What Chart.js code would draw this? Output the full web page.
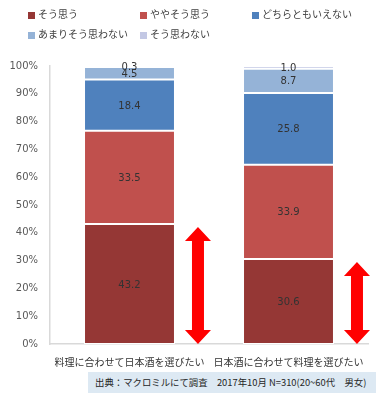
<!DOCTYPE html>
<html>
<head>
<meta charset="utf-8">
<script src="https://cdn.jsdelivr.net/npm/chart.js@4/dist/chart.umd.min.js"></script>
<style>
    html, body { margin: 0; padding: 0; background: #fff; }
    #wrap { position: relative; width: 384px; height: 393px; }
    #source {
        position: absolute; left: 88px; top: 372px; width: 281px; height: 21px;
        padding-left: 7px; background: #dde9f3; color: #262626;
        font: 9.4px "Noto Sans CJK JP", sans-serif; line-height: 21px; white-space: nowrap;
    }
</style>
</head>
<body>
<div id="wrap">
    <canvas id="chart" width="384" height="393"></canvas>
    <div id="source">出典：マクロミルにて調査　2017年10月 N=310(20~60代　男女)</div>
</div>
<script>
const categories = ['料理に合わせて日本酒を選びたい', '日本酒に合わせて料理を選びたい'];
const seriesNames = ['そう思う', 'ややそう思う', 'どちらともいえない', 'あまりそう思わない', 'そう思わない'];
const soOmou = [43.2, 30.6];
const yaya = [33.5, 33.9];
const dochira = [18.4, 25.8];
const amari = [4.5, 8.7];
const omowanai = [0.3, 1.0];
const yTicks = [0, 10, 20, 30, 40, 50, 60, 70, 80, 90, 100];

const colors = ['#953735', '#c0504d', '#4f81bd', '#95b3d7', '#c3c8e4'];
const FONT = '"DejaVu Sans", "Noto Sans CJK JP", sans-serif';

// legend, bar labels and arrows
const extras = {
    id: 'extras',
    afterDraw(chart) {
        const ctx = chart.ctx;
        ctx.save();

        // legend
        const spots = [[28, 15], [140, 15], [252, 15], [28, 35], [140, 35]];
        ctx.font = '10px ' + FONT;
        ctx.textBaseline = 'middle';
        ctx.textAlign = 'left';
        chart.data.datasets.forEach((ds, i) => {
            const [x, y] = spots[i];
            ctx.fillStyle = ds.backgroundColor;
            ctx.fillRect(x, y - 3, 7, 7);
            ctx.fillStyle = '#404040';
            ctx.fillText(ds.label, x + 10, y);
        });

        // values in the bars
        ctx.textAlign = 'center';
        ctx.font = '10px ' + FONT;
        ctx.fillStyle = '#333';
        chart.data.datasets.forEach((ds, i) => {
            chart.getDatasetMeta(i).data.forEach((bar, j) => {
                ctx.fillText(ds.data[j].toFixed(1), bar.x, (bar.y + bar.base) / 2 + 1);
            });
        });

        // red double arrows beside the first segment
        const yScale = chart.scales.y;
        const base = yScale.getPixelForValue(0);
        chart.getDatasetMeta(0).data.forEach((bar, j) => {
            const cx = bar.x + bar.width / 2 + 23;
            const top = yScale.getPixelForValue(soOmou[j]) + 3;
            const hw = 13, hh = 14, sw = 6;
            ctx.fillStyle = '#ff0000';
            ctx.beginPath();
            ctx.moveTo(cx, top);
            ctx.lineTo(cx + hw, top + hh);
            ctx.lineTo(cx + sw, top + hh);
            ctx.lineTo(cx + sw, base - hh);
            ctx.lineTo(cx + hw, base - hh);
            ctx.lineTo(cx, base);
            ctx.lineTo(cx - hw, base - hh);
            ctx.lineTo(cx - sw, base - hh);
            ctx.lineTo(cx - sw, top + hh);
            ctx.lineTo(cx - hw, top + hh);
            ctx.closePath();
            ctx.fill();
        });

        ctx.restore();
    }
};

const series = [soOmou, yaya, dochira, amari, omowanai];

new Chart(document.getElementById('chart').getContext('2d'), {
    type: 'bar',
    data: {
        labels: categories,
        datasets: series.map((d, i) => ({
            label: seriesNames[i],
            data: d,
            backgroundColor: colors[i],
            borderColor: '#ffffff',
            borderWidth: 1,
            borderSkipped: false,
            categoryPercentage: 1,
            barPercentage: 0.572
        }))
    },
    options: {
        responsive: false,
        animation: false,
        layout: { padding: { top: 66, right: 16, left: 0, bottom: 0 } },
        plugins: { legend: { display: false }, tooltip: { enabled: false } },
        scales: {
            x: {
                stacked: true,
                grid: { display: false, drawTicks: false },
                border: { display: true, color: '#d9d9d9', width: 1.5 },
                ticks: { color: '#333', font: { size: 10, family: FONT }, padding: 13, maxRotation: 0, autoSkip: false },
                afterFit(scale) { scale.height = 49; }
            },
            y: {
                stacked: true,
                min: 0,
                max: 100,
                grid: { display: false, drawTicks: false },
                border: { display: true, color: '#d9d9d9', width: 1.5 },
                afterBuildTicks(scale) { scale.ticks = yTicks.map(v => ({ value: v })); },
                ticks: {
                    color: '#595959',
                    font: { size: 10, family: FONT },
                    padding: 12,
                    callback: v => v + '%'
                },
                afterFit(scale) { scale.width = 50; }
            }
        }
    },
    plugins: [extras]
});
</script>
</body>
</html>
